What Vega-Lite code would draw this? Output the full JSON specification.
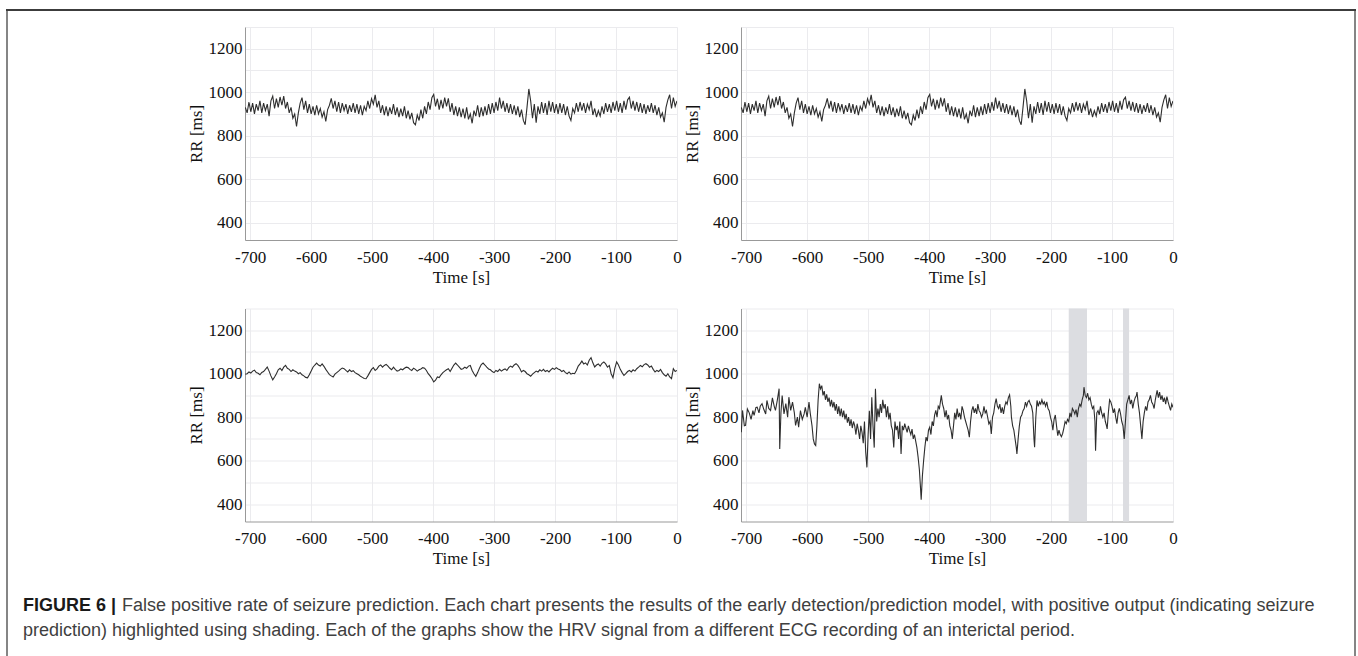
{
"$schema": "https://vega.github.io/schema/vega-lite/v6.json",
"background": "white",
"padding": {"left": 6, "top": 9, "right": 0, "bottom": 0},
"datasets": {
"sigA": [
{"t":-708,"rr":930},{"t":-705,"rr":905},{"t":-702,"rr":955},{"t":-699,"rr":910},{"t":-696,"rr":950},{"t":-693,"rr":900},{"t":-690,"rr":945},{"t":-687,"rr":915},{"t":-684,"rr":960},{"t":-681,"rr":905},
{"t":-678,"rr":950},{"t":-675,"rr":915},{"t":-672,"rr":945},{"t":-669,"rr":890},{"t":-666,"rr":960},{"t":-663,"rr":982},{"t":-660,"rr":925},{"t":-657,"rr":970},{"t":-654,"rr":930},{"t":-651,"rr":978},
{"t":-648,"rr":940},{"t":-645,"rr":982},{"t":-642,"rr":925},{"t":-639,"rr":955},{"t":-636,"rr":905},{"t":-633,"rr":930},{"t":-630,"rr":880},{"t":-627,"rr":900},{"t":-624,"rr":842},{"t":-621,"rr":905},
{"t":-618,"rr":950},{"t":-615,"rr":975},{"t":-612,"rr":920},{"t":-609,"rr":960},{"t":-606,"rr":905},{"t":-603,"rr":945},{"t":-600,"rr":900},{"t":-597,"rr":935},{"t":-594,"rr":895},{"t":-591,"rr":940},
{"t":-588,"rr":900},{"t":-585,"rr":925},{"t":-582,"rr":885},{"t":-579,"rr":910},{"t":-576,"rr":866},{"t":-573,"rr":920},{"t":-570,"rr":940},{"t":-567,"rr":972},{"t":-564,"rr":925},{"t":-561,"rr":960},
{"t":-558,"rr":910},{"t":-555,"rr":955},{"t":-552,"rr":905},{"t":-549,"rr":950},{"t":-546,"rr":915},{"t":-543,"rr":945},{"t":-540,"rr":900},{"t":-537,"rr":940},{"t":-534,"rr":910},{"t":-531,"rr":950},
{"t":-528,"rr":905},{"t":-525,"rr":945},{"t":-522,"rr":900},{"t":-519,"rr":940},{"t":-516,"rr":895},{"t":-513,"rr":935},{"t":-510,"rr":915},{"t":-507,"rr":960},{"t":-504,"rr":925},{"t":-501,"rr":970},
{"t":-498,"rr":945},{"t":-495,"rr":988},{"t":-492,"rr":930},{"t":-489,"rr":960},{"t":-486,"rr":905},{"t":-483,"rr":940},{"t":-480,"rr":895},{"t":-477,"rr":935},{"t":-474,"rr":890},{"t":-471,"rr":930},
{"t":-468,"rr":900},{"t":-465,"rr":945},{"t":-462,"rr":895},{"t":-459,"rr":930},{"t":-456,"rr":885},{"t":-453,"rr":925},{"t":-450,"rr":890},{"t":-447,"rr":935},{"t":-444,"rr":880},{"t":-441,"rr":915},
{"t":-438,"rr":875},{"t":-435,"rr":905},{"t":-432,"rr":860},{"t":-429,"rr":850},{"t":-426,"rr":895},{"t":-423,"rr":870},{"t":-420,"rr":920},{"t":-417,"rr":880},{"t":-414,"rr":935},{"t":-411,"rr":900},
{"t":-408,"rr":955},{"t":-405,"rr":920},{"t":-402,"rr":975},{"t":-399,"rr":990},{"t":-396,"rr":935},{"t":-393,"rr":970},{"t":-390,"rr":920},{"t":-387,"rr":965},{"t":-384,"rr":925},{"t":-381,"rr":975},
{"t":-378,"rr":935},{"t":-375,"rr":972},{"t":-372,"rr":910},{"t":-369,"rr":950},{"t":-366,"rr":895},{"t":-363,"rr":935},{"t":-360,"rr":890},{"t":-357,"rr":930},{"t":-354,"rr":885},{"t":-351,"rr":925},
{"t":-348,"rr":880},{"t":-345,"rr":930},{"t":-342,"rr":875},{"t":-339,"rr":900},{"t":-336,"rr":857},{"t":-333,"rr":915},{"t":-330,"rr":890},{"t":-327,"rr":940},{"t":-324,"rr":885},{"t":-321,"rr":930},
{"t":-318,"rr":890},{"t":-315,"rr":935},{"t":-312,"rr":895},{"t":-309,"rr":945},{"t":-306,"rr":900},{"t":-303,"rr":950},{"t":-300,"rr":905},{"t":-297,"rr":955},{"t":-294,"rr":915},{"t":-291,"rr":975},
{"t":-288,"rr":925},{"t":-285,"rr":960},{"t":-282,"rr":910},{"t":-279,"rr":950},{"t":-276,"rr":905},{"t":-273,"rr":945},{"t":-270,"rr":900},{"t":-267,"rr":940},{"t":-264,"rr":895},{"t":-261,"rr":935},
{"t":-258,"rr":885},{"t":-255,"rr":920},{"t":-252,"rr":870},{"t":-249,"rr":850},{"t":-246,"rr":930},{"t":-243,"rr":1015},{"t":-240,"rr":960},{"t":-237,"rr":880},{"t":-234,"rr":945},{"t":-231,"rr":860},
{"t":-228,"rr":935},{"t":-225,"rr":900},{"t":-222,"rr":955},{"t":-219,"rr":905},{"t":-216,"rr":950},{"t":-213,"rr":895},{"t":-210,"rr":960},{"t":-207,"rr":910},{"t":-204,"rr":955},{"t":-201,"rr":905},
{"t":-198,"rr":945},{"t":-195,"rr":900},{"t":-192,"rr":950},{"t":-189,"rr":905},{"t":-186,"rr":945},{"t":-183,"rr":895},{"t":-180,"rr":935},{"t":-177,"rr":890},{"t":-174,"rr":870},{"t":-171,"rr":925},
{"t":-168,"rr":905},{"t":-165,"rr":950},{"t":-162,"rr":910},{"t":-159,"rr":955},{"t":-156,"rr":915},{"t":-153,"rr":950},{"t":-150,"rr":905},{"t":-147,"rr":945},{"t":-144,"rr":920},{"t":-141,"rr":960},
{"t":-138,"rr":895},{"t":-135,"rr":925},{"t":-132,"rr":885},{"t":-129,"rr":915},{"t":-126,"rr":890},{"t":-123,"rr":935},{"t":-120,"rr":900},{"t":-117,"rr":950},{"t":-114,"rr":910},{"t":-111,"rr":945},
{"t":-108,"rr":905},{"t":-105,"rr":955},{"t":-102,"rr":915},{"t":-99,"rr":960},{"t":-96,"rr":910},{"t":-93,"rr":950},{"t":-90,"rr":905},{"t":-87,"rr":960},{"t":-84,"rr":920},{"t":-81,"rr":965},
{"t":-78,"rr":977},{"t":-75,"rr":925},{"t":-72,"rr":960},{"t":-69,"rr":915},{"t":-66,"rr":955},{"t":-63,"rr":910},{"t":-60,"rr":950},{"t":-57,"rr":905},{"t":-54,"rr":945},{"t":-51,"rr":900},
{"t":-48,"rr":940},{"t":-45,"rr":910},{"t":-42,"rr":950},{"t":-39,"rr":905},{"t":-36,"rr":940},{"t":-33,"rr":895},{"t":-30,"rr":930},{"t":-27,"rr":885},{"t":-24,"rr":905},{"t":-21,"rr":862},
{"t":-18,"rr":930},{"t":-15,"rr":965},{"t":-12,"rr":988},{"t":-9,"rr":925},{"t":-6,"rr":975},{"t":-3,"rr":935},{"t":0,"rr":960}
],
"sigC": [
{"t":-708,"rr":997},{"t":-705,"rr":1000},{"t":-702,"rr":1008},{"t":-699,"rr":1003},{"t":-696,"rr":1012},{"t":-693,"rr":1016},{"t":-690,"rr":1005},{"t":-687,"rr":1002},{"t":-684,"rr":995},{"t":-681,"rr":1006},
{"t":-678,"rr":1010},{"t":-675,"rr":1020},{"t":-672,"rr":1031},{"t":-669,"rr":1012},{"t":-666,"rr":990},{"t":-663,"rr":972},{"t":-660,"rr":985},{"t":-657,"rr":1000},{"t":-654,"rr":1018},{"t":-651,"rr":1025},
{"t":-648,"rr":1015},{"t":-645,"rr":1030},{"t":-642,"rr":1038},{"t":-639,"rr":1025},{"t":-636,"rr":1020},{"t":-633,"rr":1010},{"t":-630,"rr":1018},{"t":-627,"rr":1012},{"t":-624,"rr":1008},{"t":-621,"rr":1000},
{"t":-618,"rr":1005},{"t":-615,"rr":995},{"t":-612,"rr":990},{"t":-609,"rr":983},{"t":-606,"rr":981},{"t":-603,"rr":995},{"t":-600,"rr":1012},{"t":-597,"rr":1030},{"t":-594,"rr":1040},{"t":-591,"rr":1049},
{"t":-588,"rr":1040},{"t":-585,"rr":1035},{"t":-582,"rr":1045},{"t":-579,"rr":1034},{"t":-576,"rr":1020},{"t":-573,"rr":1008},{"t":-570,"rr":996},{"t":-567,"rr":990},{"t":-564,"rr":985},{"t":-561,"rr":998},
{"t":-558,"rr":1005},{"t":-555,"rr":1012},{"t":-552,"rr":1020},{"t":-549,"rr":1026},{"t":-546,"rr":1023},{"t":-543,"rr":1015},{"t":-540,"rr":1008},{"t":-537,"rr":1018},{"t":-534,"rr":1010},{"t":-531,"rr":1014},
{"t":-528,"rr":1005},{"t":-525,"rr":1000},{"t":-522,"rr":995},{"t":-519,"rr":988},{"t":-516,"rr":983},{"t":-513,"rr":978},{"t":-510,"rr":977},{"t":-507,"rr":990},{"t":-504,"rr":1005},{"t":-501,"rr":1020},
{"t":-498,"rr":1028},{"t":-495,"rr":1015},{"t":-492,"rr":1022},{"t":-489,"rr":1035},{"t":-486,"rr":1040},{"t":-483,"rr":1030},{"t":-480,"rr":1038},{"t":-477,"rr":1043},{"t":-474,"rr":1035},{"t":-471,"rr":1025},
{"t":-468,"rr":1018},{"t":-465,"rr":1030},{"t":-462,"rr":1020},{"t":-459,"rr":1012},{"t":-456,"rr":1015},{"t":-453,"rr":1022},{"t":-450,"rr":1018},{"t":-447,"rr":1025},{"t":-444,"rr":1030},{"t":-441,"rr":1028},
{"t":-438,"rr":1020},{"t":-435,"rr":1015},{"t":-432,"rr":1025},{"t":-429,"rr":1020},{"t":-426,"rr":1012},{"t":-423,"rr":1018},{"t":-420,"rr":1022},{"t":-417,"rr":1028},{"t":-414,"rr":1025},{"t":-411,"rr":1015},
{"t":-408,"rr":1000},{"t":-405,"rr":990},{"t":-402,"rr":978},{"t":-399,"rr":962},{"t":-396,"rr":970},{"t":-393,"rr":985},{"t":-390,"rr":982},{"t":-387,"rr":995},{"t":-384,"rr":1005},{"t":-381,"rr":1012},
{"t":-378,"rr":1018},{"t":-375,"rr":1023},{"t":-372,"rr":1010},{"t":-369,"rr":1025},{"t":-366,"rr":1040},{"t":-363,"rr":1049},{"t":-360,"rr":1040},{"t":-357,"rr":1030},{"t":-354,"rr":1020},{"t":-351,"rr":1023},
{"t":-348,"rr":1030},{"t":-345,"rr":1025},{"t":-342,"rr":1035},{"t":-339,"rr":1038},{"t":-336,"rr":1015},{"t":-333,"rr":1000},{"t":-330,"rr":988},{"t":-327,"rr":1005},{"t":-324,"rr":1025},{"t":-321,"rr":1042},
{"t":-318,"rr":1049},{"t":-315,"rr":1040},{"t":-312,"rr":1030},{"t":-309,"rr":1022},{"t":-306,"rr":1018},{"t":-303,"rr":1010},{"t":-300,"rr":1005},{"t":-297,"rr":1015},{"t":-294,"rr":1010},{"t":-291,"rr":1020},
{"t":-288,"rr":1012},{"t":-285,"rr":1018},{"t":-282,"rr":1022},{"t":-279,"rr":1015},{"t":-276,"rr":1028},{"t":-273,"rr":1035},{"t":-270,"rr":1030},{"t":-267,"rr":1040},{"t":-264,"rr":1046},{"t":-261,"rr":1038},
{"t":-258,"rr":1025},{"t":-255,"rr":1008},{"t":-252,"rr":1015},{"t":-249,"rr":1010},{"t":-246,"rr":1000},{"t":-243,"rr":995},{"t":-240,"rr":988},{"t":-237,"rr":998},{"t":-234,"rr":1005},{"t":-231,"rr":1012},
{"t":-228,"rr":1008},{"t":-225,"rr":1018},{"t":-222,"rr":1012},{"t":-219,"rr":1020},{"t":-216,"rr":1010},{"t":-213,"rr":1015},{"t":-210,"rr":1008},{"t":-207,"rr":1018},{"t":-204,"rr":1025},{"t":-201,"rr":1020},
{"t":-198,"rr":1028},{"t":-195,"rr":1022},{"t":-192,"rr":1018},{"t":-189,"rr":1010},{"t":-186,"rr":1015},{"t":-183,"rr":1005},{"t":-180,"rr":1000},{"t":-177,"rr":1008},{"t":-174,"rr":998},{"t":-171,"rr":1002},
{"t":-168,"rr":1000},{"t":-165,"rr":1015},{"t":-162,"rr":1035},{"t":-159,"rr":1045},{"t":-156,"rr":1058},{"t":-153,"rr":1045},{"t":-150,"rr":1050},{"t":-147,"rr":1040},{"t":-144,"rr":1062},{"t":-141,"rr":1074},
{"t":-138,"rr":1050},{"t":-135,"rr":1031},{"t":-132,"rr":1040},{"t":-129,"rr":1045},{"t":-126,"rr":1035},{"t":-123,"rr":1048},{"t":-120,"rr":1054},{"t":-117,"rr":1045},{"t":-114,"rr":1030},{"t":-111,"rr":1038},
{"t":-108,"rr":1000},{"t":-105,"rr":982},{"t":-102,"rr":1025},{"t":-99,"rr":1054},{"t":-96,"rr":1040},{"t":-93,"rr":1020},{"t":-90,"rr":1005},{"t":-87,"rr":992},{"t":-84,"rr":1000},{"t":-81,"rr":1010},
{"t":-78,"rr":1015},{"t":-75,"rr":1008},{"t":-72,"rr":1018},{"t":-69,"rr":1012},{"t":-66,"rr":1023},{"t":-63,"rr":1030},{"t":-60,"rr":1038},{"t":-57,"rr":1032},{"t":-54,"rr":1042},{"t":-51,"rr":1046},
{"t":-48,"rr":1040},{"t":-45,"rr":1030},{"t":-42,"rr":1035},{"t":-39,"rr":1020},{"t":-36,"rr":1008},{"t":-33,"rr":1015},{"t":-30,"rr":1010},{"t":-27,"rr":1020},{"t":-24,"rr":1005},{"t":-21,"rr":995},
{"t":-18,"rr":988},{"t":-15,"rr":1000},{"t":-12,"rr":985},{"t":-9,"rr":977},{"t":-6,"rr":1023},{"t":-3,"rr":1010},{"t":0,"rr":1015}
],
"sigD": [
{"t":-708,"rr":731},{"t":-706,"rr":831},{"t":-703,"rr":760},{"t":-701,"rr":762},{"t":-698,"rr":838},{"t":-695,"rr":820},{"t":-692,"rr":790},{"t":-689,"rr":830},{"t":-687,"rr":808},{"t":-684,"rr":845},
{"t":-682,"rr":846},{"t":-679,"rr":820},{"t":-677,"rr":850},{"t":-674,"rr":862},{"t":-671,"rr":835},{"t":-668,"rr":815},{"t":-666,"rr":877},{"t":-663,"rr":840},{"t":-660,"rr":831},{"t":-657,"rr":889},
{"t":-654,"rr":850},{"t":-652,"rr":831},{"t":-649,"rr":877},{"t":-646,"rr":931},{"t":-645,"rr":654},{"t":-643,"rr":820},{"t":-641,"rr":900},{"t":-638,"rr":815},{"t":-635,"rr":862},{"t":-632,"rr":800},
{"t":-630,"rr":892},{"t":-627,"rr":831},{"t":-624,"rr":869},{"t":-621,"rr":820},{"t":-619,"rr":762},{"t":-616,"rr":800},{"t":-614,"rr":754},{"t":-611,"rr":830},{"t":-608,"rr":790},{"t":-605,"rr":815},
{"t":-603,"rr":845},{"t":-600,"rr":800},{"t":-597,"rr":870},{"t":-595,"rr":820},{"t":-592,"rr":760},{"t":-590,"rr":700},{"t":-588,"rr":677},{"t":-586,"rr":670},{"t":-584,"rr":760},{"t":-582,"rr":880},
{"t":-580,"rr":954},{"t":-578,"rr":930},{"t":-576,"rr":945},{"t":-574,"rr":900},{"t":-572,"rr":920},{"t":-570,"rr":880},{"t":-568,"rr":905},{"t":-566,"rr":870},{"t":-564,"rr":890},{"t":-562,"rr":850},
{"t":-560,"rr":880},{"t":-558,"rr":845},{"t":-556,"rr":870},{"t":-554,"rr":830},{"t":-552,"rr":860},{"t":-550,"rr":815},{"t":-548,"rr":850},{"t":-546,"rr":805},{"t":-544,"rr":840},{"t":-542,"rr":800},
{"t":-540,"rr":830},{"t":-538,"rr":790},{"t":-536,"rr":815},{"t":-534,"rr":775},{"t":-532,"rr":800},{"t":-530,"rr":760},{"t":-528,"rr":790},{"t":-526,"rr":750},{"t":-524,"rr":780},{"t":-522,"rr":760},
{"t":-520,"rr":720},{"t":-518,"rr":770},{"t":-516,"rr":740},{"t":-514,"rr":700},{"t":-512,"rr":760},{"t":-510,"rr":730},{"t":-508,"rr":680},{"t":-506,"rr":780},{"t":-504,"rr":640},{"t":-502,"rr":569},
{"t":-500,"rr":720},{"t":-498,"rr":830},{"t":-496,"rr":700},{"t":-494,"rr":892},{"t":-492,"rr":760},{"t":-490,"rr":660},{"t":-488,"rr":931},{"t":-486,"rr":780},{"t":-484,"rr":840},{"t":-482,"rr":800},
{"t":-480,"rr":860},{"t":-478,"rr":820},{"t":-476,"rr":880},{"t":-474,"rr":840},{"t":-472,"rr":860},{"t":-470,"rr":800},{"t":-468,"rr":850},{"t":-466,"rr":790},{"t":-464,"rr":820},{"t":-462,"rr":760},
{"t":-460,"rr":740},{"t":-458,"rr":661},{"t":-456,"rr":780},{"t":-454,"rr":740},{"t":-452,"rr":760},{"t":-450,"rr":700},{"t":-448,"rr":780},{"t":-446,"rr":631},{"t":-444,"rr":760},{"t":-442,"rr":740},
{"t":-440,"rr":770},{"t":-438,"rr":750},{"t":-436,"rr":730},{"t":-434,"rr":760},{"t":-432,"rr":738},{"t":-430,"rr":720},{"t":-428,"rr":745},{"t":-426,"rr":700},{"t":-424,"rr":720},{"t":-422,"rr":690},
{"t":-420,"rr":660},{"t":-418,"rr":615},{"t":-416,"rr":560},{"t":-414,"rr":470},{"t":-413,"rr":420},{"t":-411,"rr":530},{"t":-409,"rr":600},{"t":-407,"rr":660},{"t":-405,"rr":708},{"t":-403,"rr":690},
{"t":-401,"rr":740},{"t":-399,"rr":754},{"t":-397,"rr":720},{"t":-395,"rr":780},{"t":-393,"rr":760},{"t":-391,"rr":810},{"t":-389,"rr":831},{"t":-387,"rr":800},{"t":-385,"rr":850},{"t":-383,"rr":840},
{"t":-381,"rr":880},{"t":-380,"rr":900},{"t":-378,"rr":860},{"t":-376,"rr":840},{"t":-374,"rr":800},{"t":-372,"rr":831},{"t":-370,"rr":790},{"t":-368,"rr":810},{"t":-366,"rr":760},{"t":-364,"rr":740},
{"t":-362,"rr":700},{"t":-360,"rr":760},{"t":-358,"rr":820},{"t":-356,"rr":790},{"t":-354,"rr":840},{"t":-352,"rr":800},{"t":-350,"rr":820},{"t":-348,"rr":790},{"t":-346,"rr":850},{"t":-344,"rr":830},
{"t":-342,"rr":800},{"t":-340,"rr":780},{"t":-338,"rr":760},{"t":-336,"rr":740},{"t":-334,"rr":708},{"t":-332,"rr":780},{"t":-330,"rr":830},{"t":-328,"rr":850},{"t":-326,"rr":820},{"t":-324,"rr":840},
{"t":-322,"rr":815},{"t":-320,"rr":860},{"t":-318,"rr":830},{"t":-316,"rr":820},{"t":-314,"rr":800},{"t":-312,"rr":815},{"t":-310,"rr":850},{"t":-308,"rr":820},{"t":-306,"rr":830},{"t":-304,"rr":800},
{"t":-302,"rr":769},{"t":-300,"rr":780},{"t":-298,"rr":723},{"t":-296,"rr":800},{"t":-294,"rr":820},{"t":-292,"rr":860},{"t":-290,"rr":885},{"t":-288,"rr":850},{"t":-286,"rr":840},{"t":-284,"rr":860},
{"t":-282,"rr":820},{"t":-280,"rr":845},{"t":-278,"rr":815},{"t":-276,"rr":850},{"t":-274,"rr":870},{"t":-272,"rr":860},{"t":-270,"rr":890},{"t":-268,"rr":903},{"t":-266,"rr":850},{"t":-265,"rr":800},
{"t":-263,"rr":760},{"t":-261,"rr":740},{"t":-259,"rr":700},{"t":-257,"rr":660},{"t":-256,"rr":631},{"t":-254,"rr":700},{"t":-252,"rr":760},{"t":-250,"rr":800},{"t":-248,"rr":810},{"t":-246,"rr":830},
{"t":-244,"rr":840},{"t":-242,"rr":869},{"t":-240,"rr":850},{"t":-238,"rr":870},{"t":-236,"rr":877},{"t":-234,"rr":860},{"t":-232,"rr":850},{"t":-230,"rr":820},{"t":-228,"rr":700},{"t":-227,"rr":662},
{"t":-225,"rr":800},{"t":-223,"rr":877},{"t":-221,"rr":850},{"t":-219,"rr":870},{"t":-217,"rr":860},{"t":-215,"rr":880},{"t":-213,"rr":860},{"t":-211,"rr":870},{"t":-209,"rr":850},{"t":-207,"rr":870},
{"t":-205,"rr":840},{"t":-203,"rr":830},{"t":-201,"rr":800},{"t":-199,"rr":780},{"t":-197,"rr":740},{"t":-195,"rr":790},{"t":-193,"rr":810},{"t":-191,"rr":760},{"t":-189,"rr":715},{"t":-187,"rr":740},
{"t":-185,"rr":720},{"t":-183,"rr":710},{"t":-181,"rr":725},{"t":-179,"rr":750},{"t":-177,"rr":780},{"t":-175,"rr":770},{"t":-173,"rr":790},{"t":-171,"rr":780},{"t":-169,"rr":820},{"t":-167,"rr":800},
{"t":-165,"rr":840},{"t":-163,"rr":830},{"t":-161,"rr":815},{"t":-159,"rr":835},{"t":-157,"rr":800},{"t":-155,"rr":840},{"t":-153,"rr":860},{"t":-151,"rr":850},{"t":-149,"rr":880},{"t":-147,"rr":900},
{"t":-146,"rr":938},{"t":-144,"rr":900},{"t":-142,"rr":890},{"t":-140,"rr":910},{"t":-138,"rr":880},{"t":-136,"rr":890},{"t":-134,"rr":860},{"t":-132,"rr":840},{"t":-130,"rr":850},{"t":-128,"rr":780},
{"t":-127,"rr":646},{"t":-125,"rr":820},{"t":-123,"rr":830},{"t":-121,"rr":810},{"t":-119,"rr":850},{"t":-117,"rr":820},{"t":-115,"rr":800},{"t":-113,"rr":820},{"t":-111,"rr":780},{"t":-109,"rr":760},
{"t":-108,"rr":746},{"t":-106,"rr":820},{"t":-104,"rr":880},{"t":-102,"rr":870},{"t":-100,"rr":850},{"t":-98,"rr":820},{"t":-96,"rr":840},{"t":-94,"rr":800},{"t":-92,"rr":770},{"t":-90,"rr":820},
{"t":-88,"rr":840},{"t":-86,"rr":815},{"t":-84,"rr":780},{"t":-82,"rr":760},{"t":-80,"rr":700},{"t":-78,"rr":780},{"t":-76,"rr":860},{"t":-74,"rr":880},{"t":-72,"rr":900},{"t":-70,"rr":860},
{"t":-68,"rr":880},{"t":-66,"rr":840},{"t":-64,"rr":870},{"t":-62,"rr":890},{"t":-60,"rr":900},{"t":-59,"rr":915},{"t":-57,"rr":860},{"t":-55,"rr":820},{"t":-53,"rr":760},{"t":-51,"rr":700},
{"t":-49,"rr":780},{"t":-47,"rr":820},{"t":-45,"rr":850},{"t":-43,"rr":830},{"t":-41,"rr":870},{"t":-39,"rr":880},{"t":-37,"rr":900},{"t":-35,"rr":870},{"t":-33,"rr":860},{"t":-31,"rr":840},
{"t":-29,"rr":880},{"t":-27,"rr":910},{"t":-26,"rr":923},{"t":-24,"rr":890},{"t":-22,"rr":915},{"t":-20,"rr":880},{"t":-18,"rr":900},{"t":-16,"rr":870},{"t":-14,"rr":890},{"t":-12,"rr":860},
{"t":-10,"rr":895},{"t":-8,"rr":870},{"t":-6,"rr":850},{"t":-4,"rr":831},{"t":-2,"rr":860},{"t":0,"rr":845}
],
"bands": [{"start":-171,"end":-141},{"start":-82,"end":-72}],
"caption": [
{"line":"1","part":"label","text":"FIGURE 6 |"},
{"line":"1","part":"body","text":"False positive rate of seizure prediction. Each chart presents the results of the early detection/prediction model, with positive output (indicating seizure"},
{"line":"2","part":"body","text":"prediction) highlighted using shading. Each of the graphs show the HRV signal from a different ECG recording of an interictal period."}
]
},
"spacing": 0,
"vconcat": [
{"width": 1350, "height": 2, "view": {"fill": "#3c3c3c", "stroke": null}, "data": {"values": []}, "mark": {"type": "point", "opacity": 0}, "encoding": {}},
{
"spacing": 15,
"hconcat": [
{"width": 2, "height": 645, "view": {"fill": "#858585", "stroke": null}, "data": {"values": []}, "mark": {"type": "point", "opacity": 0}, "encoding": {}},
{
"spacing": 26.5,
"vconcat": [
{
"spacing": 15,
"vconcat": [
{"width": 10, "height": 1, "data": {"values": []}, "mark": {"type": "point", "opacity": 0}, "encoding": {}},
{
"spacing": 0,
"hconcat": [
{"width": 164, "height": 10, "data": {"values": []}, "mark": {"type": "point", "opacity": 0}, "encoding": {}},
{
"columns": 2,
"spacing": {"row": 23.5, "column": 1},
"concat": [
{"width": 432, "height": 213, "data": {"name": "sigA"},
 "mark": {"type": "line", "color": "#2e2e2e", "strokeWidth": 1.1, "clip": true},
 "encoding": {
  "x": {"field": "t", "type": "quantitative", "scale": {"domain": [-708.5, 0], "nice": false, "zero": false},
        "axis": {"title": "Time [s]", "values": [-700,-600,-500,-400,-300,-200,-100,0], "labelExpr": "'' + datum.value", "labelFont": "Liberation Serif", "labelFontSize": 17, "titleFont": "Liberation Serif", "titleFontSize": 17, "titleFontWeight": "normal", "labelColor": "#111111", "titleColor": "#111111", "labelPadding": 9, "titlePadding": 4, "ticks": false, "labelFlush": false, "gridColor": "#ebebee", "domainColor": "#999999"}},
  "y": {"field": "rr", "type": "quantitative", "scale": {"domain": [320, 1300], "nice": false, "zero": false},
        "axis": {"title": "RR [ms]", "values": [400,500,600,700,800,900,1000,1100,1200,1300], "labelExpr": "datum.value % 200 === 0 && datum.value < 1300 ? '' + datum.value : ''", "labelFont": "Liberation Serif", "labelFontSize": 17, "titleFont": "Liberation Serif", "titleFontSize": 17, "titleFontWeight": "normal", "labelColor": "#111111", "titleColor": "#111111", "labelPadding": 3, "titlePadding": 3, "ticks": false, "labelFlush": false, "gridColor": "#ebebee", "domainColor": "#999999"}}
 }},
{"width": 432, "height": 213, "data": {"name": "sigA"},
 "mark": {"type": "line", "color": "#2e2e2e", "strokeWidth": 1.1, "clip": true},
 "encoding": {
  "x": {"field": "t", "type": "quantitative", "scale": {"domain": [-708.5, 0], "nice": false, "zero": false},
        "axis": {"title": "Time [s]", "values": [-700,-600,-500,-400,-300,-200,-100,0], "labelExpr": "'' + datum.value", "labelFont": "Liberation Serif", "labelFontSize": 17, "titleFont": "Liberation Serif", "titleFontSize": 17, "titleFontWeight": "normal", "labelColor": "#111111", "titleColor": "#111111", "labelPadding": 9, "titlePadding": 4, "ticks": false, "labelFlush": false, "gridColor": "#ebebee", "domainColor": "#999999"}},
  "y": {"field": "rr", "type": "quantitative", "scale": {"domain": [320, 1300], "nice": false, "zero": false},
        "axis": {"title": "RR [ms]", "values": [400,500,600,700,800,900,1000,1100,1200,1300], "labelExpr": "datum.value % 200 === 0 && datum.value < 1300 ? '' + datum.value : ''", "labelFont": "Liberation Serif", "labelFontSize": 17, "titleFont": "Liberation Serif", "titleFontSize": 17, "titleFontWeight": "normal", "labelColor": "#111111", "titleColor": "#111111", "labelPadding": 3, "titlePadding": 3, "ticks": false, "labelFlush": false, "gridColor": "#ebebee", "domainColor": "#999999"}}
 }},
{"width": 432, "height": 213, "data": {"name": "sigC"},
 "mark": {"type": "line", "color": "#2e2e2e", "strokeWidth": 1.1, "clip": true},
 "encoding": {
  "x": {"field": "t", "type": "quantitative", "scale": {"domain": [-708.5, 0], "nice": false, "zero": false},
        "axis": {"title": "Time [s]", "values": [-700,-600,-500,-400,-300,-200,-100,0], "labelExpr": "'' + datum.value", "labelFont": "Liberation Serif", "labelFontSize": 17, "titleFont": "Liberation Serif", "titleFontSize": 17, "titleFontWeight": "normal", "labelColor": "#111111", "titleColor": "#111111", "labelPadding": 9, "titlePadding": 4, "ticks": false, "labelFlush": false, "gridColor": "#ebebee", "domainColor": "#999999"}},
  "y": {"field": "rr", "type": "quantitative", "scale": {"domain": [320, 1300], "nice": false, "zero": false},
        "axis": {"title": "RR [ms]", "values": [400,500,600,700,800,900,1000,1100,1200,1300], "labelExpr": "datum.value % 200 === 0 && datum.value < 1300 ? '' + datum.value : ''", "labelFont": "Liberation Serif", "labelFontSize": 17, "titleFont": "Liberation Serif", "titleFontSize": 17, "titleFontWeight": "normal", "labelColor": "#111111", "titleColor": "#111111", "labelPadding": 3, "titlePadding": 3, "ticks": false, "labelFlush": false, "gridColor": "#ebebee", "domainColor": "#999999"}}
 }},
{"width": 432, "height": 213,
 "layer": [
  {"data": {"name": "bands"},
   "mark": {"type": "rect", "color": "#dcdde1", "opacity": 1},
   "encoding": {
    "x": {"field": "start", "type": "quantitative", "scale": {"domain": [-708.5, 0], "nice": false, "zero": false},
          "axis": {"title": "Time [s]", "values": [-700,-600,-500,-400,-300,-200,-100,0], "labelExpr": "'' + datum.value", "labelFont": "Liberation Serif", "labelFontSize": 17, "titleFont": "Liberation Serif", "titleFontSize": 17, "titleFontWeight": "normal", "labelColor": "#111111", "titleColor": "#111111", "labelPadding": 9, "titlePadding": 4, "ticks": false, "labelFlush": false, "gridColor": "#ebebee", "domainColor": "#999999"}},
    "x2": {"field": "end"}
   }},
  {"data": {"name": "sigD"},
   "mark": {"type": "line", "color": "#2e2e2e", "strokeWidth": 1.1, "clip": true},
   "encoding": {
    "x": {"field": "t", "type": "quantitative", "scale": {"domain": [-708.5, 0], "nice": false, "zero": false},
          "axis": {"title": "Time [s]", "values": [-700,-600,-500,-400,-300,-200,-100,0], "labelExpr": "'' + datum.value", "labelFont": "Liberation Serif", "labelFontSize": 17, "titleFont": "Liberation Serif", "titleFontSize": 17, "titleFontWeight": "normal", "labelColor": "#111111", "titleColor": "#111111", "labelPadding": 9, "titlePadding": 4, "ticks": false, "labelFlush": false, "gridColor": "#ebebee", "domainColor": "#999999"}},
    "y": {"field": "rr", "type": "quantitative", "scale": {"domain": [320, 1300], "nice": false, "zero": false},
          "axis": {"title": "RR [ms]", "values": [400,500,600,700,800,900,1000,1100,1200,1300], "labelExpr": "datum.value % 200 === 0 && datum.value < 1300 ? '' + datum.value : ''", "labelFont": "Liberation Serif", "labelFontSize": 17, "titleFont": "Liberation Serif", "titleFontSize": 17, "titleFontWeight": "normal", "labelColor": "#111111", "titleColor": "#111111", "labelPadding": 3, "titlePadding": 3, "ticks": false, "labelFlush": false, "gridColor": "#ebebee", "domainColor": "#999999"}}
   }}
 ]}
]
}
]
}
]
},
{
"width": 1316, "height": 50,
"data": {"name": "caption"},
"layer": [
 {"transform": [{"filter": "datum.part === 'label'"}],
  "mark": {"type": "text", "align": "left", "baseline": "middle", "font": "Liberation Sans", "fontSize": 18, "fontWeight": "bold", "color": "#1a1a1a"},
  "encoding": {"x": {"value": 0}, "y": {"field": "line", "type": "ordinal", "axis": null, "scale": {"domain": ["1","2"]}}, "text": {"field": "text"}}},
 {"transform": [{"filter": "datum.part === 'body' && datum.line === '1'"}],
  "mark": {"type": "text", "align": "left", "baseline": "middle", "font": "Liberation Sans", "fontSize": 18, "color": "#404040", "dx": 99},
  "encoding": {"x": {"value": 0}, "y": {"field": "line", "type": "ordinal", "axis": null, "scale": {"domain": ["1","2"]}}, "text": {"field": "text"}}},
 {"transform": [{"filter": "datum.part === 'body' && datum.line === '2'"}],
  "mark": {"type": "text", "align": "left", "baseline": "middle", "font": "Liberation Sans", "fontSize": 18, "color": "#404040"},
  "encoding": {"x": {"value": 0}, "y": {"field": "line", "type": "ordinal", "axis": null, "scale": {"domain": ["1","2"]}}, "text": {"field": "text"}}}
]
}
]
},
{"width": 2, "height": 645, "view": {"fill": "#858585", "stroke": null}, "data": {"values": []}, "mark": {"type": "point", "opacity": 0}, "encoding": {}}
]
}
],
"config": {
 "view": {"stroke": null}
}
}
